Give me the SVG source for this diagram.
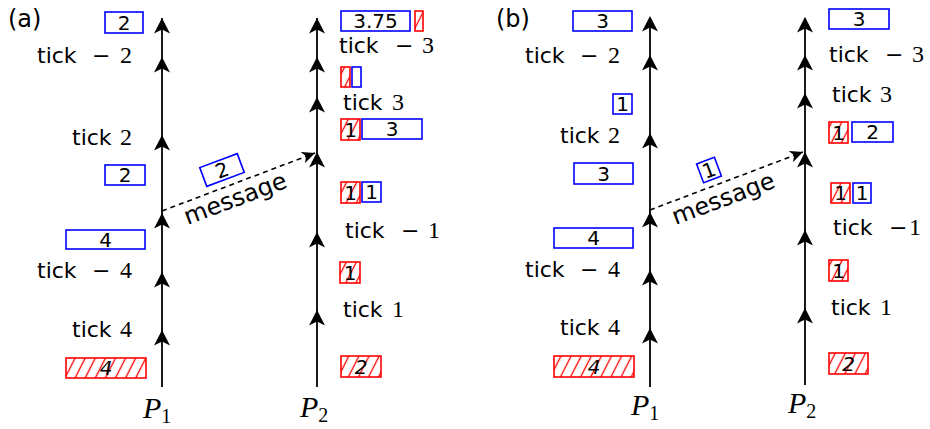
<svg xmlns="http://www.w3.org/2000/svg" width="930" height="429" viewBox="0 0 930 429">
<style>
.ln{stroke:#000;stroke-width:1.8;fill:none}
.dash{stroke:#000;stroke-width:1.6;stroke-dasharray:5 4;fill:none}
.bb{fill:none;stroke:#0000ff;stroke-width:1.6}
.rb{fill:url(#hatch);stroke:#ff0000;stroke-width:1.6}
.num{font-family:"DejaVu Sans",sans-serif;font-size:20px;text-anchor:middle;fill:#000}
.numi{font-family:"DejaVu Sans",sans-serif;font-size:20px;font-style:italic;text-anchor:middle;fill:#000}
.tk{font-family:"DejaVu Sans",sans-serif;font-size:22px;fill:#000}
.m{font-family:"Liberation Serif",serif;font-size:24px}
.mn{font-family:"DejaVu Serif",serif;font-size:22px}
.lab{font-family:"DejaVu Sans",sans-serif;font-size:24px;fill:#000}
.pl{font-family:"Liberation Serif",serif;font-size:30px;font-style:italic;fill:#000}
.sub{font-style:normal;font-size:20px}
.ah{fill:#000}
</style>
<defs>
<pattern id="hatch" width="9" height="9" patternUnits="userSpaceOnUse" patternTransform="rotate(27)">
<line x1="4.5" y1="0" x2="4.5" y2="9" stroke="#ff0000" stroke-width="1.3"/>
</pattern>
<path id="ah" d="M0,0 L8,15.5 L0,11.5 L-8,15.5 Z"/>
<marker id="mah" viewBox="0 0 14 12" refX="13" refY="6" markerWidth="14" markerHeight="12" markerUnits="userSpaceOnUse" orient="auto">
<path d="M13,6 L0,0 L3.5,6 L0,12 Z" fill="#000"/>
</marker>
</defs>

<!-- panel labels -->
<text id="label-a" class="lab" x="8" y="27">(a)</text>
<text id="label-b" class="lab" x="496" y="27">(b)</text>

<!-- connectors -->
<g id="connectors">
<path class="ln" d="M162,387 V18"/>
<path class="ln" d="M317,387 V18"/>
<path class="ln" d="M650,387 V18"/>
<path class="ln" d="M805,385 V18"/>
<g class="ah">
<use href="#ah" x="162" y="18"/><use href="#ah" x="162" y="57"/><use href="#ah" x="162" y="135"/>
<use href="#ah" x="162" y="213"/><use href="#ah" x="162" y="272"/><use href="#ah" x="162" y="330"/>
<use href="#ah" x="317" y="18"/><use href="#ah" x="317" y="57"/><use href="#ah" x="317" y="97"/>
<use href="#ah" x="317" y="152"/><use href="#ah" x="317" y="232"/><use href="#ah" x="317" y="310"/>
<use href="#ah" x="650" y="16"/><use href="#ah" x="650" y="55"/><use href="#ah" x="650" y="133"/>
<use href="#ah" x="650" y="212"/><use href="#ah" x="650" y="270"/><use href="#ah" x="650" y="328"/>
<use href="#ah" x="805" y="17"/><use href="#ah" x="805" y="55"/><use href="#ah" x="805" y="93"/>
<use href="#ah" x="805" y="152"/><use href="#ah" x="805" y="230"/><use href="#ah" x="805" y="308"/>
</g>
<path id="msg-a" class="dash" d="M162,211 L315,153" marker-end="url(#mah)"/>
<path id="msg-b" class="dash" d="M650,210 L803,152" marker-end="url(#mah)"/>
</g>

<!-- panel (a) P1 -->
<g id="a-p1-s1"><rect class="bb" x="105" y="12" width="38" height="21"/><text class="num" x="124" y="29.5">2</text></g>
<g id="a-p1-tm2"><text class="tk" x="37" y="63">tick<tspan class="mn" x="92">−</tspan><tspan class="m" x="120">2</tspan></text></g>
<g id="a-p1-t2"><text class="tk" x="72" y="145">tick<tspan class="m" x="120">2</tspan></text></g>
<g id="a-p1-s2"><rect class="bb" x="105" y="165" width="40" height="20"/><text class="num" x="125" y="182">2</text></g>
<g id="a-p1-s3"><rect class="bb" x="66" y="230" width="79" height="19"/><text class="num" x="105.5" y="246.5">4</text></g>
<g id="a-p1-tm4"><text class="tk" x="37" y="278">tick<tspan class="mn" x="92">−</tspan><tspan class="m" x="120">4</tspan></text></g>
<g id="a-p1-t4"><text class="tk" x="72" y="337">tick<tspan class="m" x="120">4</tspan></text></g>
<g id="a-p1-r1"><rect class="rb" x="66" y="358" width="80" height="20"/><text class="numi" x="106" y="375">4</text></g>
<g id="a-p1-name"><text class="pl" x="143" y="418">P<tspan class="sub" dy="5">1</tspan></text></g>

<!-- panel (a) message -->
<g id="a-msg-box" transform="translate(222,170) rotate(-20.5)"><rect class="bb" x="-20" y="-10" width="40" height="20"/><text class="num" x="0" y="7.3">2</text></g>
<g id="a-msg-label"><text class="lab" transform="translate(238,206) rotate(-20.5)" text-anchor="middle">message</text></g>

<!-- panel (a) P2 -->
<g id="a-p2-s1"><rect class="bb" x="341" y="11" width="69" height="20"/><text class="num" x="375.5" y="28">3.75</text></g>
<g id="a-p2-r1"><rect class="rb" x="415" y="11" width="8" height="20"/></g>
<g id="a-p2-tm3"><text class="tk" x="339" y="53">tick<tspan class="mn" x="395">−</tspan><tspan class="m" x="422">3</tspan></text></g>
<g id="a-p2-r2"><rect class="rb" x="341" y="67" width="9" height="20"/></g>
<g id="a-p2-s2"><rect class="bb" x="352" y="67" width="9" height="20"/></g>
<g id="a-p2-t3"><text class="tk" x="343" y="110">tick<tspan class="m" x="392">3</tspan></text></g>
<g id="a-p2-r3"><rect class="rb" x="341" y="119" width="19" height="21"/><text class="num" x="350.5" y="136.5">1</text></g>
<g id="a-p2-s3"><rect class="bb" x="362" y="119" width="60" height="20"/><text class="num" x="392" y="136">3</text></g>
<g id="a-p2-r4"><rect class="rb" x="341" y="182" width="19" height="21"/><text class="num" x="350.5" y="199.5">1</text></g>
<g id="a-p2-s4"><rect class="bb" x="362" y="182" width="19" height="20"/><text class="num" x="371.5" y="199">1</text></g>
<g id="a-p2-tm1"><text class="tk" x="345" y="238">tick<tspan class="mn" x="401">−</tspan><tspan class="m" x="428">1</tspan></text></g>
<g id="a-p2-r5"><rect class="rb" x="340" y="262" width="20" height="21"/><text class="num" x="350" y="279.5">1</text></g>
<g id="a-p2-t1"><text class="tk" x="343" y="317">tick<tspan class="m" x="392">1</tspan></text></g>
<g id="a-p2-r6"><rect class="rb" x="341" y="356" width="40" height="21"/><text class="numi" x="361" y="373.5">2</text></g>
<g id="a-p2-name"><text class="pl" x="300" y="417">P<tspan class="sub" dy="5">2</tspan></text></g>

<!-- panel (b) P1 -->
<g id="b-p1-s1"><rect class="bb" x="573" y="11" width="59" height="20"/><text class="num" x="602.5" y="28">3</text></g>
<g id="b-p1-tm2"><text class="tk" x="525" y="63">tick<tspan class="mn" x="580">−</tspan><tspan class="m" x="608">2</tspan></text></g>
<g id="b-p1-s2"><rect class="bb" x="613" y="94" width="19" height="20"/><text class="num" x="622.5" y="111">1</text></g>
<g id="b-p1-t2"><text class="tk" x="560" y="143">tick<tspan class="m" x="608">2</tspan></text></g>
<g id="b-p1-s3"><rect class="bb" x="574" y="163" width="59" height="21"/><text class="num" x="603.5" y="180.5">3</text></g>
<g id="b-p1-s4"><rect class="bb" x="554" y="228" width="79" height="20"/><text class="num" x="593.5" y="245">4</text></g>
<g id="b-p1-tm4"><text class="tk" x="525" y="277">tick<tspan class="mn" x="580">−</tspan><tspan class="m" x="608">4</tspan></text></g>
<g id="b-p1-t4"><text class="tk" x="560" y="335">tick<tspan class="m" x="608">4</tspan></text></g>
<g id="b-p1-r1"><rect class="rb" x="554" y="356" width="80" height="21"/><text class="numi" x="594" y="373.5">4</text></g>
<g id="b-p1-name"><text class="pl" x="631" y="415">P<tspan class="sub" dy="5">1</tspan></text></g>

<!-- panel (b) message -->
<g id="b-msg-box" transform="translate(709,170) rotate(-20.5)"><rect class="bb" x="-9.5" y="-10" width="19" height="20"/><text class="num" x="0" y="7.3">1</text></g>
<g id="b-msg-label"><text class="lab" transform="translate(726,206) rotate(-20.5)" text-anchor="middle">message</text></g>

<!-- panel (b) P2 -->
<g id="b-p2-s1"><rect class="bb" x="829" y="9" width="60" height="20"/><text class="num" x="859" y="26">3</text></g>
<g id="b-p2-tm3"><text class="tk" x="829" y="62">tick<tspan class="mn" x="885">−</tspan><tspan class="m" x="912">3</tspan></text></g>
<g id="b-p2-t3"><text class="tk" x="832" y="102">tick<tspan class="m" x="880">3</tspan></text></g>
<g id="b-p2-r1"><rect class="rb" x="829" y="122" width="19" height="21"/><text class="num" x="838.5" y="139.5">1</text></g>
<g id="b-p2-s2"><rect class="bb" x="852" y="122" width="41" height="20"/><text class="num" x="872.5" y="139">2</text></g>
<g id="b-p2-r2"><rect class="rb" x="831" y="183" width="19" height="20"/><text class="num" x="840.5" y="200">1</text></g>
<g id="b-p2-s3"><rect class="bb" x="853" y="183" width="18" height="20"/><text class="num" x="862" y="200">1</text></g>
<g id="b-p2-tm1"><text class="tk" x="833" y="235">tick<tspan class="mn" x="889">−</tspan><tspan class="m" x="909">1</tspan></text></g>
<g id="b-p2-r3"><rect class="rb" x="829" y="260" width="19" height="21"/><text class="num" x="838.5" y="277.5">1</text></g>
<g id="b-p2-t1"><text class="tk" x="831" y="315">tick<tspan class="m" x="880">1</tspan></text></g>
<g id="b-p2-r4"><rect class="rb" x="829" y="353" width="39" height="21"/><text class="numi" x="848.5" y="370.5">2</text></g>
<g id="b-p2-name"><text class="pl" x="788" y="413">P<tspan class="sub" dy="5">2</tspan></text></g>
</svg>
